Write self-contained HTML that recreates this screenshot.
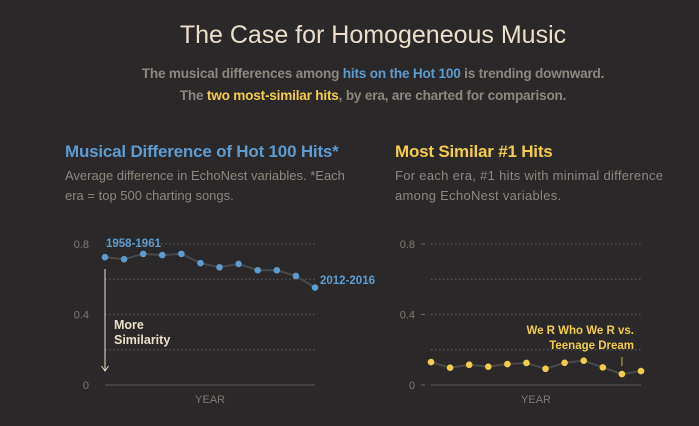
<!DOCTYPE html>
<html><head><meta charset="utf-8"><style>
body{margin:0;width:699px;height:426px;background:#2a2828;font-family:"Liberation Sans",sans-serif;overflow:hidden;position:relative}
.t{position:absolute;white-space:nowrap}
</style></head><body>
<div class="t" style="left:0;width:746px;text-align:center;top:21px;font-size:25px;color:#ebdfcb">The Case for Homogeneous Music</div>
<div class="t" style="left:0;width:746px;text-align:center;top:63px;font-size:13.6px;line-height:22px;color:#8d8780;font-weight:bold;letter-spacing:-0.2px">The musical differences among <span style="color:#5e9bcf">hits on the Hot 100</span> is trending downward.<br>The <span style="color:#f2cd4c">two most-similar hits</span>, by era, are charted for comparison.</div>
<div class="t" style="left:65px;top:142px;font-size:17px;font-weight:bold;color:#5e9bcf;letter-spacing:-0.2px">Musical Difference of Hot 100 Hits*</div>
<div class="t" style="left:65px;top:166px;font-size:13px;line-height:20px;color:#8d8780">Average difference in EchoNest variables. *Each<br>era = top 500 charting songs.</div>
<div class="t" style="left:395px;top:142px;font-size:17px;font-weight:bold;color:#f2cd4c;letter-spacing:-0.2px">Most Similar #1 Hits</div>
<div class="t" style="left:395px;top:166px;font-size:13px;line-height:20px;color:#8d8780;letter-spacing:0.3px">For each era, #1 hits with minimal difference<br>among EchoNest variables.</div>
<svg id="chart" width="699" height="426" style="position:absolute;left:0;top:0"></svg>
<script>
const leftValues=[0.725,0.714,0.744,0.737,0.744,0.691,0.668,0.687,0.651,0.651,0.619,0.553];
const rightValues=[0.130,0.098,0.115,0.104,0.119,0.125,0.092,0.126,0.138,0.100,0.062,0.079];
const yTicks=[0,0.4,0.8];
const gridVals=[0.2,0.4,0.6,0.8];
const NS="http://www.w3.org/2000/svg";
const svg=document.getElementById('chart');
function mk(tag,attrs,parent){const e=document.createElementNS(NS,tag);for(const k in attrs)e.setAttribute(k,attrs[k]);(parent||svg).appendChild(e);return e;}
function y(v){return 385-v*176.25;}
function draw(x0,x1,vals,color,name,tickDash){
  const g=mk('g',{});
  
  
  const x=i=>x0+i*(x1-x0)/(vals.length-1);
  gridVals.forEach(v=>{const l=mk('line',{x1:x0,x2:x1,y1:y(v),y2:y(v),stroke:'#5a5552','stroke-width':1.3,'stroke-dasharray':'1.5,2.5'},g);
    
    });
  const base=mk('line',{x1:x0,x2:x1,y1:385,y2:385,stroke:'#444040','stroke-width':2},g);
  
  
  yTicks.forEach(v=>{const t=mk('text',{x:x0-16,y:y(v)+4,'text-anchor':'end',fill:'#807a74','font-size':11},g);t.textContent=v===0?'0':v;
    
    
    if(tickDash){const l=mk('line',{x1:x0-10,x2:x0-6,y1:y(v),y2:y(v),stroke:'#6a6560'},g);
      
      }});
  const xl=mk('text',{x:(x0+x1)/2,y:403,'text-anchor':'middle',fill:'#807a74','font-size':11},g);xl.textContent='YEAR';
  
  
  const p=mk('polyline',{points:vals.map((v,i)=>x(i)+','+y(v)).join(' '),fill:'none',stroke:'#4a4a4c','stroke-width':2},g);
  
  
  vals.forEach((v,i)=>{const c=mk('circle',{cx:x(i),cy:y(v),r:3.3,fill:color},g);
    
    });
  return x;
}
const xl=draw(105,315,leftValues,'#5e9bcf','left-chart',false);
const xr=draw(431,641,rightValues,'#f2cd4c','right-chart',true);
function txt(s,a,name){const t=mk('text',a);t.textContent=s;
  
  return t;}
txt('1958-1961',{x:106,y:247,fill:'#5e9bcf','font-size':11.5,'font-weight':'bold'},'start-label');
txt('2012-2016',{x:320,y:284,fill:'#5e9bcf','font-size':11.5,'font-weight':'bold'},'end-label');
const ar=mk('line',{x1:105,y1:269,x2:105,y2:370,stroke:'#ebdfcb','stroke-width':1});


const ah=mk('path',{d:'M101.5,366 L105,371 L108.5,366',fill:'none',stroke:'#ebdfcb','stroke-width':1});


txt('More',{x:114,y:329,fill:'#ebdfcb','font-size':12.5,'font-weight':'bold'},'more-label');
txt('Similarity',{x:114,y:344,fill:'#ebdfcb','font-size':12.5,'font-weight':'bold'},'similarity-label');
txt('We R Who We R vs.',{x:634,y:334,'text-anchor':'end',fill:'#f2cd4c','font-size':11.5,'font-weight':'bold'},'annotation-line1');
txt('Teenage Dream',{x:634,y:349,'text-anchor':'end',fill:'#f2cd4c','font-size':11.5,'font-weight':'bold'},'annotation-line2');
const al=mk('line',{x1:xr(10),x2:xr(10),y1:357,y2:366,stroke:'#b39a4a','stroke-width':1.2});


</script>
</body></html>
